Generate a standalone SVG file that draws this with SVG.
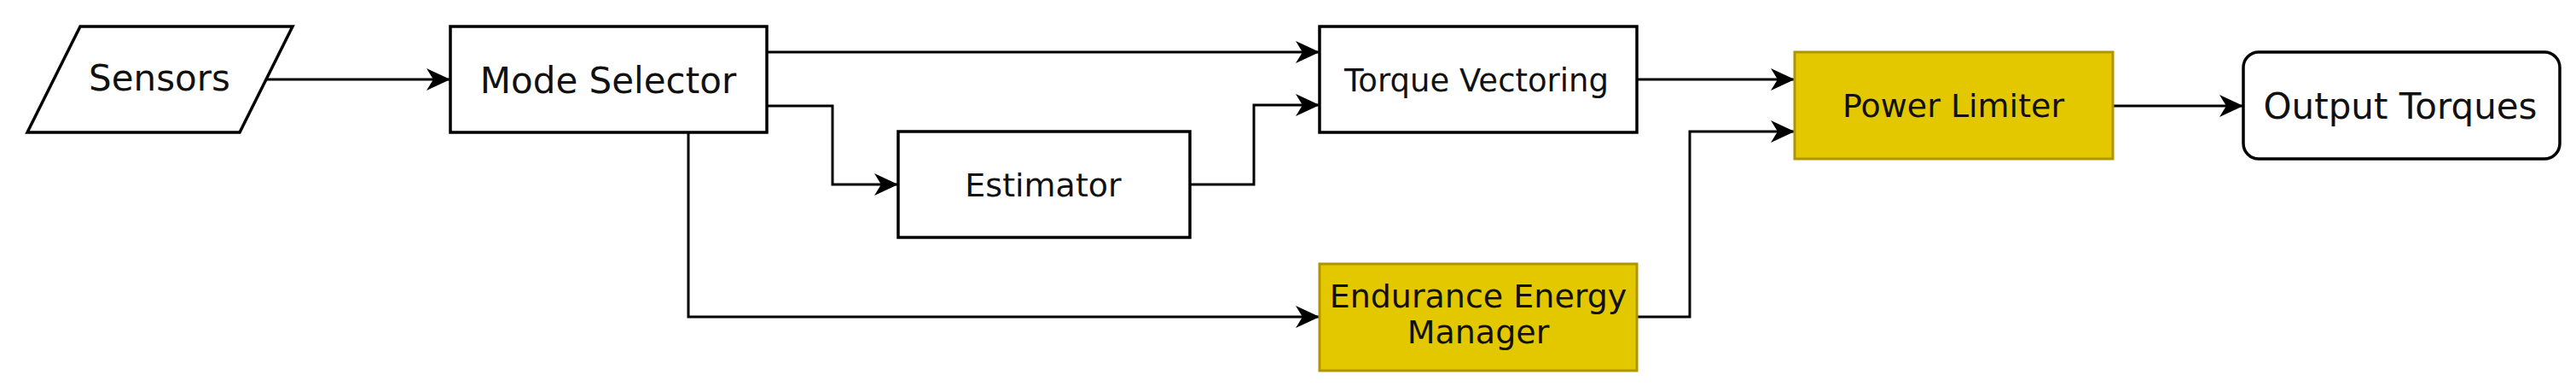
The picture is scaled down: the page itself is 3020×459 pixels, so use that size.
<svg xmlns="http://www.w3.org/2000/svg" width="3020" height="459" viewBox="0 0 3020 459">
<style>
.node{fill:#ffffff;stroke:#000000;stroke-width:3.5}
.hl{fill:#e3c800;stroke:#b09500;stroke-width:3}
.lbl{font-family:"DejaVu Sans","Verdana",sans-serif;fill:#111111;text-anchor:middle}
.edge{fill:none;stroke:#000000;stroke-width:3;marker-end:url(#arr)}
</style>
<defs>
<marker id="arr" viewBox="0 0 28 26" refX="27" refY="13" markerWidth="28" markerHeight="26" markerUnits="userSpaceOnUse" orient="auto">
<path d="M0,0 L28,13 L0,26 L8,13 Z" fill="#000000"/>
</marker>
</defs>
<rect x="0" y="0" width="3020" height="459" fill="#ffffff"/>
<g id="connectors">
<path class="edge" d="M312,93 H527"/>
<path class="edge" d="M899,61 H1546"/>
<path class="edge" d="M899,124 H976 V216 H1052"/>
<path class="edge" d="M1395,216 H1470 V123 H1546"/>
<path class="edge" d="M807,155 V371 H1546"/>
<path class="edge" d="M1919,93 H2103"/>
<path class="edge" d="M1919,371 H1981 V154 H2103"/>
<path class="edge" d="M2477,124 H2629"/>
</g>
<g id="sensors">
<polygon class="node" points="94,31 343,31 281,155 32,155"/>
<text class="lbl" x="187" y="106" font-size="42">Sensors</text>
</g>
<g id="mode-selector">
<rect class="node" x="528" y="31" width="371" height="124"/>
<text class="lbl" x="713" y="109" font-size="42">Mode Selector</text>
</g>
<g id="torque-vectoring">
<rect class="node" x="1547" y="31" width="372" height="124"/>
<text class="lbl" x="1731" y="107" font-size="37">Torque Vectoring</text>
</g>
<g id="estimator">
<rect class="node" x="1053" y="154" width="342" height="124"/>
<text class="lbl" x="1223" y="230" font-size="38">Estimator</text>
</g>
<g id="endurance-energy-manager">
<rect class="hl" x="1547" y="309" width="372" height="125"/>
<text class="lbl" x="1733" y="360" font-size="38">Endurance Energy</text>
<text class="lbl" x="1733" y="402" font-size="38">Manager</text>
</g>
<g id="power-limiter">
<rect class="hl" x="2104" y="61" width="373" height="125"/>
<text class="lbl" x="2290" y="137" font-size="38">Power Limiter</text>
</g>
<g id="output-torques">
<rect class="node" x="2630" y="61" width="371" height="125" rx="18" ry="18"/>
<text class="lbl" x="2814" y="139" font-size="42">Output Torques</text>
</g>
</svg>
